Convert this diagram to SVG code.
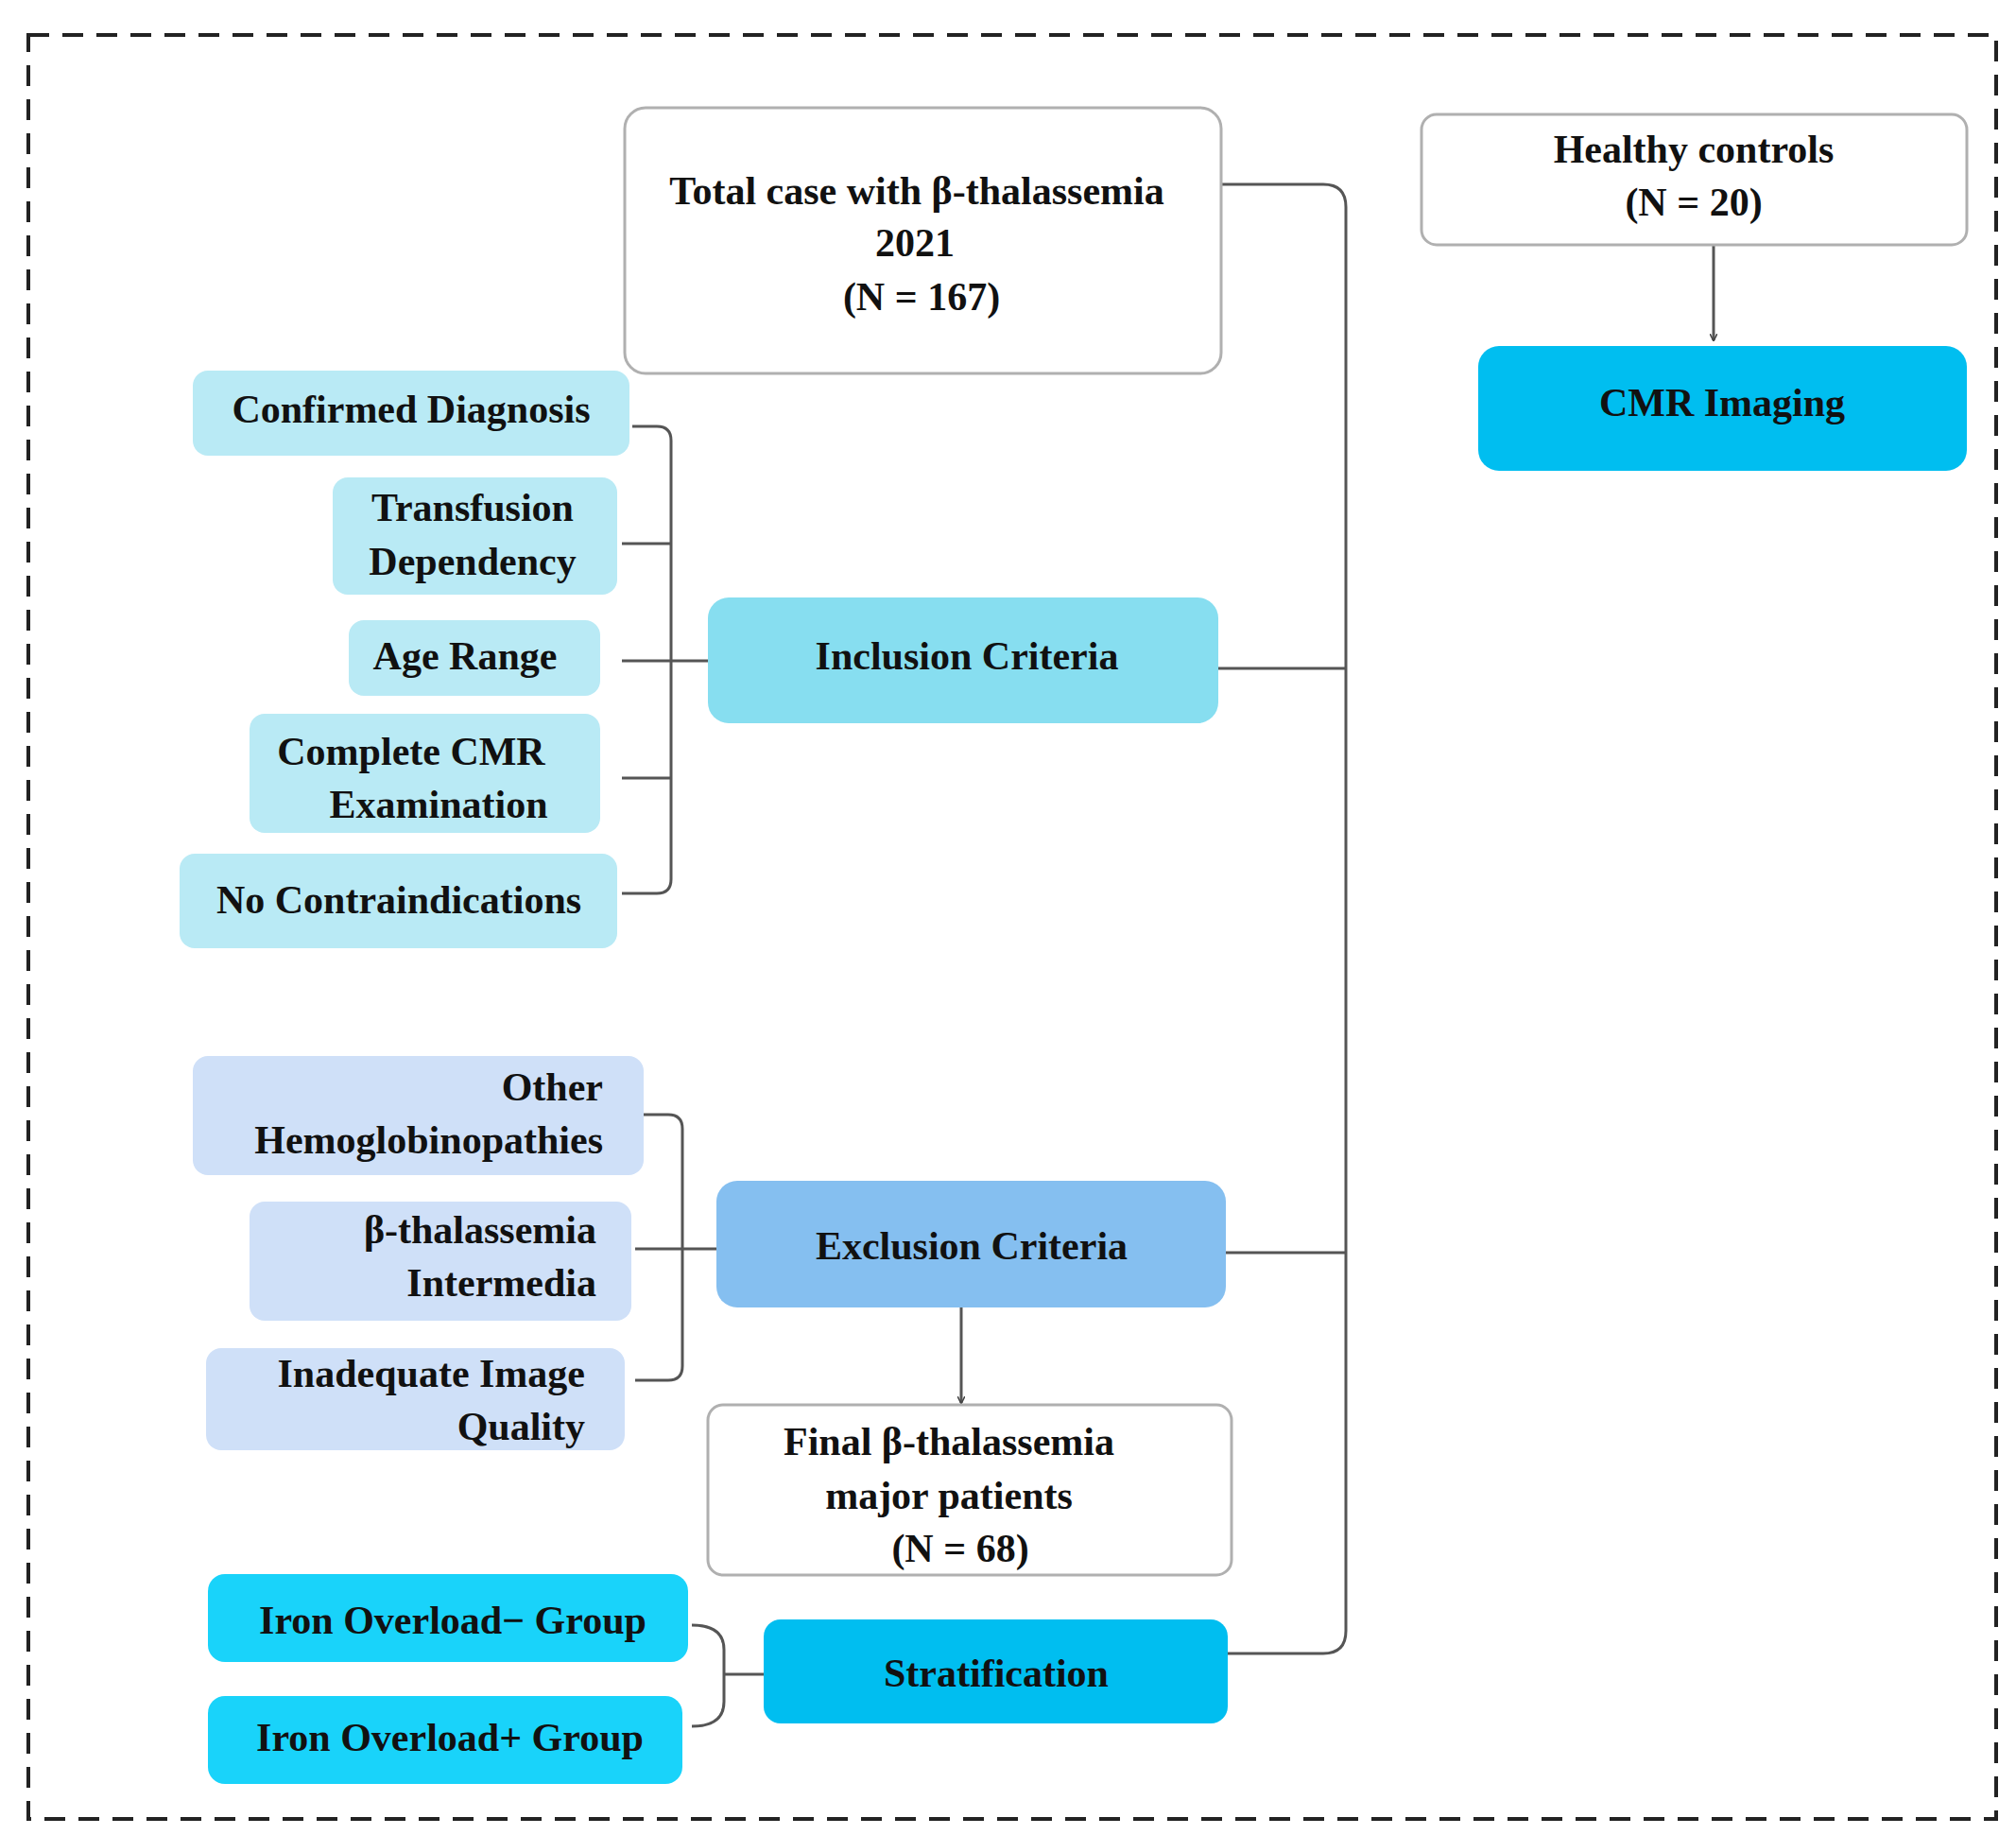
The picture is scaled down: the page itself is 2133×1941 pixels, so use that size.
<svg xmlns="http://www.w3.org/2000/svg" width="2133" height="1941" viewBox="0 0 2133 1941">
<style>
text{font-family:"Liberation Serif","Times New Roman",serif;font-weight:bold;font-size:42px;fill:#111}
.c{text-anchor:middle}.r{text-anchor:end}
.w{fill:#fff;stroke:#b0b0b0;stroke-width:3}
.ln{fill:none;stroke:#555;stroke-width:3}
</style>
<defs><marker id="a" viewBox="0 0 10 10" refX="9" refY="5" markerWidth="8" markerHeight="8" orient="auto" markerUnits="userSpaceOnUse"><path d="M0,0 L10,5 L0,10" fill="none" stroke="#444" stroke-width="2"/></marker></defs>
<rect fill="#fff" width="2133" height="1941"/>
<rect x="30" y="37" width="2082" height="1887" fill="none" stroke="#222" stroke-width="4" stroke-dasharray="22,14"/>
<g id="connectors">
<path class="ln" d="M1285,195 H1400 Q1424,195 1424,219 V1725 Q1424,1749 1400,1749 H1299"/>
<path class="ln" d="M1285,707 H1424 M1285,1325 H1424"/>
<path class="ln" d="M669,451 H695 Q710,451 710,466 V930 Q710,945 695,945 H658 M658,575 H710 M658,823 H710 M658,699 H764"/>
<path class="ln" d="M672,1179 H707 Q722,1179 722,1194 V1445 Q722,1460 707,1460 H672 M672,1321 H775"/>
<path class="ln" d="M732,1719 Q766,1719 766,1745 V1800 Q766,1826 732,1826 M766,1771 H816"/>
<path class="ln" d="M1813,259 V360" marker-end="url(#a)"/>
<path class="ln" d="M1017,1383 V1484" marker-end="url(#a)"/>
</g>
<g id="total"><rect class="w" x="661" y="114" width="631" height="281" rx="22"/><text class="c" x="970" y="216">Total case with β-thalassemia</text><text class="c" x="968" y="271">2021</text><text class="c" x="975" y="328">(N = 167)</text></g>
<g id="healthy"><rect class="w" x="1504" y="121" width="577" height="138" rx="16"/><text class="c" x="1792" y="172">Healthy controls</text><text class="c" x="1792" y="228">(N = 20)</text></g>
<g id="cmr"><rect x="1564" y="366" width="517" height="132" rx="22" fill="#00bef0"/><text class="c" x="1822" y="440">CMR Imaging</text></g>
<g id="confirmed"><rect x="204" y="392" width="462" height="90" rx="16" fill="#b9eaf5"/><text class="c" x="435" y="447">Confirmed Diagnosis</text></g>
<g id="transfusion"><rect x="352" y="505" width="301" height="124" rx="16" fill="#b9eaf5"/><text class="c" x="500" y="551">Transfusion</text><text class="c" x="500" y="608">Dependency</text></g>
<g id="age"><rect x="369" y="656" width="266" height="80" rx="16" fill="#b9eaf5"/><text class="c" x="492" y="708">Age Range</text></g>
<g id="complete"><rect x="264" y="755" width="371" height="126" rx="16" fill="#b9eaf5"/><text class="c" x="435" y="809">Complete CMR</text><text class="c" x="464" y="865">Examination</text></g>
<g id="nocontra"><rect x="190" y="903" width="463" height="100" rx="16" fill="#b9eaf5"/><text class="c" x="422" y="966">No Contraindications</text></g>
<g id="inclusion"><rect x="749" y="632" width="540" height="133" rx="22" fill="#87def0"/><text class="c" x="1023" y="708">Inclusion Criteria</text></g>
<g id="other"><rect x="204" y="1117" width="477" height="126" rx="16" fill="#cfe0f8"/><text class="r" x="638" y="1164">Other</text><text class="r" x="638" y="1220">Hemoglobinopathies</text></g>
<g id="intermedia"><rect x="264" y="1271" width="404" height="126" rx="16" fill="#cfe0f8"/><text class="r" x="631" y="1315">β-thalassemia</text><text class="r" x="631" y="1371">Intermedia</text></g>
<g id="inadequate"><rect x="218" y="1426" width="443" height="108" rx="16" fill="#cfe0f8"/><text class="r" x="619" y="1467">Inadequate Image</text><text class="r" x="619" y="1523">Quality</text></g>
<g id="exclusion"><rect x="758" y="1249" width="539" height="134" rx="22" fill="#85bff0"/><text class="c" x="1028" y="1332">Exclusion Criteria</text></g>
<g id="final"><rect class="w" x="749" y="1486" width="554" height="180" rx="16"/><text class="c" x="1004" y="1539">Final β-thalassemia</text><text class="c" x="1004" y="1596">major patients</text><text class="c" x="1016" y="1652">(N = 68)</text></g>
<g id="ironneg"><rect x="220" y="1665" width="508" height="93" rx="18" fill="#19d3fa"/><text class="c" x="479" y="1728">Iron Overload− Group</text></g>
<g id="ironpos"><rect x="220" y="1794" width="502" height="93" rx="18" fill="#19d3fa"/><text class="c" x="476" y="1852">Iron Overload+ Group</text></g>
<g id="strat"><rect x="808" y="1713" width="491" height="110" rx="18" fill="#00bef0"/><text class="c" x="1054" y="1784">Stratification</text></g>
</svg>
